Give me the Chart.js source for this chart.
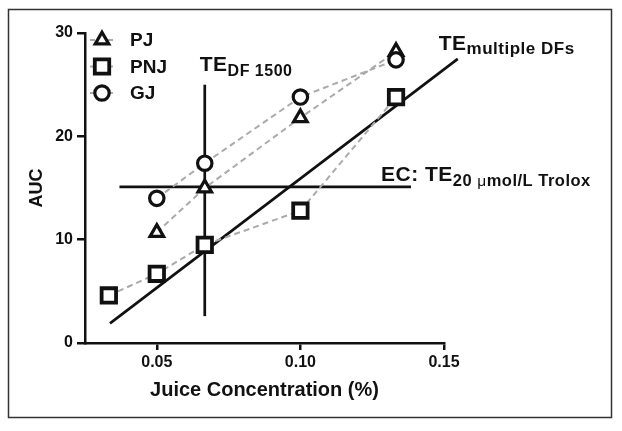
<!DOCTYPE html>
<html>
<head>
<meta charset="utf-8">
<script src="https://cdn.jsdelivr.net/npm/chart.js@4.4.1/dist/chart.umd.min.js"></script>
<style>
  html, body { margin: 0; padding: 0; background: #fff; }
  #wrap { width: 622px; height: 431px; position: relative; }
</style>
</head>
<body>
<div id="wrap"><canvas id="aucChart"></canvas></div>
<script>
const concentration = [0.0333, 0.05, 0.0667, 0.10, 0.1333];
const pjAUC  = [null, 10.7, 15.0, 21.8, 28.2];
const pnjAUC = [4.6, 6.7, 9.5, 12.8, 23.8];
const gjAUC  = [null, 14.0, 17.4, 23.8, 27.4];
const xTicks = [0.05, 0.10, 0.15];
const yTicks = [0, 10, 20, 30];

// reference lines, endpoints
const teDF1500X = [0.0667, 0.0667], teDF1500Y = [2.6, 25];
const ecTroloxX = [0.037, 0.1385],  ecTroloxY = [15.1, 15.1];
const teMultiX  = [0.0337, 0.1548], teMultiY  = [1.9, 27.5];

const FONT = 'Arial, "Liberation Sans", sans-serif';
const INK = '#111';
const DASH = '#aaaaaa';

function pairs(xs, ys) {
  return xs.map((x, i) => ({ x: x, y: ys[i] })).filter(p => p.y !== null);
}

function series(label, ys, style, radius, bw, order) {
  return {
    label: label,
    data: pairs(concentration, ys),
    showLine: true,
    borderColor: DASH,
    borderWidth: 2,
    borderDash: [6, 4],
    pointStyle: style,
    pointRadius: radius,
    pointBorderWidth: bw,
    pointBackgroundColor: '#fff',
    pointBorderColor: INK,
    order: order
  };
}

function refLine(xs, ys) {
  return {
    label: '',
    data: pairs(xs, ys),
    showLine: true,
    borderColor: INK,
    borderWidth: 2.7,
    pointRadius: 0,
    clip: false,
    order: 10
  };
}

// same geometry as Chart.js point styles
function drawMarker(ctx, style, x, y, r) {
  ctx.beginPath();
  if (style === 'rect') {
    const s = Math.SQRT1_2 * r;
    ctx.rect(x - s, y - s, 2 * s, 2 * s);
  } else if (style === 'triangle') {
    let a = 0;
    ctx.moveTo(x + Math.sin(a) * r, y - Math.cos(a) * r);
    a += 2 * Math.PI / 3;
    ctx.lineTo(x + Math.sin(a) * r, y - Math.cos(a) * r);
    a += 2 * Math.PI / 3;
    ctx.lineTo(x + Math.sin(a) * r, y - Math.cos(a) * r);
    ctx.closePath();
  } else {
    ctx.arc(x, y, r, 0, 2 * Math.PI);
  }
  ctx.fill();
  ctx.stroke();
}

// text with a subscript part: parts = [[text, size, weight, dy], ...]
function drawParts(ctx, parts, x, y) {
  ctx.textAlign = 'left';
  ctx.textBaseline = 'alphabetic';
  ctx.fillStyle = INK;
  ctx.letterSpacing = '0.5px';
  parts.forEach(p => {
    ctx.font = p[2] + ' ' + p[1] + 'px ' + FONT;
    ctx.fillText(p[0], x, y + p[3]);
    x += ctx.measureText(p[0]).width;
  });
  ctx.letterSpacing = '0px';
}

const annotations = {
  id: 'annotations',
  afterDatasetsDraw(chart) {
    const ctx = chart.ctx, xs = chart.scales.x, ys = chart.scales.y;
    ctx.save();
    let px = xs.getPixelForValue(teDF1500X[1]), py = ys.getPixelForValue(teDF1500Y[1]);
    drawParts(ctx, [['TE', 21, 'bold', 0], ['DF 1500', 16, 'bold', 5]], px - 5, py - 14);

    px = xs.getPixelForValue(teMultiX[1]); py = ys.getPixelForValue(teMultiY[1]);
    drawParts(ctx, [['TE', 21, 'bold', 0], ['multiple DFs', 17, 'bold', 4]], px - 19, py - 9);

    px = xs.getPixelForValue(ecTroloxX[1]); py = ys.getPixelForValue(ecTroloxY[1]);
    drawParts(ctx, [['EC: TE', 21, 'bold', 0], ['20 ', 16.5, 'bold', 5], ['\u03bc', 15.5, 'normal', 5],
      ['mol/L Trolox', 16.5, 'bold', 5]], px - 30, py - 6);
    ctx.restore();
  }
};

const legendBox = {
  id: 'legendBox',
  afterDraw(chart) {
    const ctx = chart.ctx, ca = chart.chartArea;
    ctx.save();
    chart.data.datasets.slice(0, 3).forEach((ds, i) => {
      const y = ca.top + 7 + i * 26.5;
      ctx.strokeStyle = DASH;
      ctx.lineWidth = 2;
      ctx.setLineDash([5, 4]);
      ctx.beginPath();
      ctx.moveTo(ca.left + 5, y);
      ctx.lineTo(ca.left + 31, y);
      ctx.stroke();
      ctx.setLineDash([]);
      ctx.fillStyle = '#fff';
      ctx.strokeStyle = INK;
      ctx.lineWidth = ds.pointBorderWidth;
      drawMarker(ctx, ds.pointStyle, ca.left + 17, y, ds.pointRadius);
      ctx.fillStyle = INK;
      ctx.font = 'bold 19px ' + FONT;
      ctx.textAlign = 'left';
      ctx.textBaseline = 'middle';
      ctx.fillText(ds.label, ca.left + 45, y + 1);
    });
    // outer frame
    ctx.strokeStyle = '#333';
    ctx.lineWidth = 1.5;
    ctx.strokeRect(8.5, 9.5, 603, 408);
    ctx.restore();
  }
};

const axisFont = { family: FONT, size: 16, weight: 'bold' };

new Chart(document.getElementById('aucChart'), {
  type: 'scatter',
  data: {
    datasets: [
      series('PJ', pjAUC, 'triangle', 7.8, 3.2, 3),
      series('PNJ', pnjAUC, 'rect', 10.2, 3.8, 2),
      series('GJ', gjAUC, 'circle', 7.2, 3.2, 1),
      refLine(teDF1500X, teDF1500Y),
      refLine(ecTroloxX, ecTroloxY),
      refLine(teMultiX, teMultiY)
    ]
  },
  options: {
    responsive: true,
    maintainAspectRatio: false,
    animation: false,
    events: [],
    layout: { padding: { left: 0, top: 33, right: 178, bottom: 0 } },
    plugins: { legend: { display: false }, tooltip: { enabled: false } },
    scales: {
      x: {
        type: 'linear', min: 0.025, max: 0.15,
        afterBuildTicks: s => { s.ticks = xTicks.map(v => ({ value: v })); },
        afterFit: s => { s.height = 88; },
        grid: { drawOnChartArea: false, drawTicks: true, tickLength: 7, color: INK, lineWidth: 2.5 },
        border: { display: true, color: INK, width: 2.5 },
        ticks: { padding: 3, color: INK, font: axisFont, callback: v => v.toFixed(2) },
        title: { display: true, text: 'Juice Concentration (%)', color: INK,
          font: { family: FONT, size: 20, weight: 'bold' }, padding: { top: 0, bottom: 29 } }
      },
      y: {
        type: 'linear', min: 0, max: 30,
        afterBuildTicks: s => { s.ticks = yTicks.map(v => ({ value: v })); },
        afterFit: s => { s.width = 85; },
        grid: { drawOnChartArea: false, drawTicks: true, tickLength: 8, color: INK, lineWidth: 2.5 },
        border: { display: true, color: INK, width: 2.5 },
        ticks: { padding: 4, color: INK, font: axisFont, callback: v => String(v) },
        title: { display: true, text: 'AUC', color: INK,
          font: { family: FONT, size: 18, weight: 'bold' }, padding: { top: 26, bottom: 0 } }
      }
    }
  },
  plugins: [annotations, legendBox]
});
</script>
</body>
</html>
